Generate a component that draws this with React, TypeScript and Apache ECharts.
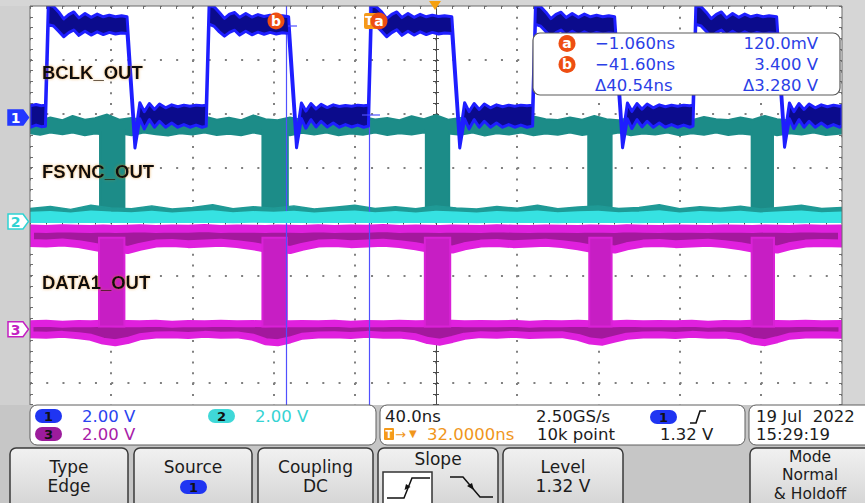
import React, { useEffect, useRef } from 'react';
import * as echarts from 'echarts';

// ---- scope settings ----
const timeMin = -168; // ns at left edge (40 ns/div, trigger position 32 ns)
const timeMax = 232; // ns at right edge
const voltsPerDiv = 2.0;
const ch1OffsetDiv = 1.93;
const ch2OffsetDiv = 0;
const ch3OffsetDiv = -2;
const cursorTimes = [-1.06, -41.6]; // cursor a, cursor b (ns)

// ---- CH1 BCLK_OUT envelope: [t ns, low V, high V] ----
const bclkEnvelope = [
  [-168, -0.36, 0.44], [-165, -0.28, 0.48], [-162.5, -0.34, 0.44], [-160.4, -0.32, 0.46],
  [-159.0, 3.45, 4.18], [-156.4, 3.4, 4.12], [-153.9, 3.2, 3.92], [-151.4, 3.0, 3.66],
  [-148.9, 3.15, 3.82], [-146.4, 3.25, 3.92], [-143.9, 3.05, 3.7], [-140.9, 3.2, 3.86],
  [-137.9, 3.06, 3.72], [-134.9, 3.18, 3.84], [-131.9, 3.08, 3.74], [-128.9, 3.16, 3.8],
  [-125.9, 3.1, 3.74], [-122.9, 3.14, 3.78], [-120.2, 3.12, 3.74],
  [-116.3, -1.13, -0.72], [-113.9, -0.05, 0.55], [-111.7, -0.42, 0.22], [-109.2, -0.08, 0.52],
  [-106.7, -0.36, 0.3], [-104.2, -0.14, 0.5], [-101.2, -0.36, 0.36], [-98.2, -0.2, 0.47],
  [-95.2, -0.36, 0.4], [-92.2, -0.26, 0.46], [-89.2, -0.36, 0.42], [-86.2, -0.28, 0.46],
  [-83.2, -0.36, 0.44], [-81.2, -0.32, 0.46],
  [-79.8, 3.47, 4.16], [-77.2, 3.38, 4.1], [-74.7, 3.18, 3.9], [-72.2, 3.02, 3.68],
  [-69.7, 3.16, 3.84], [-67.2, 3.24, 3.9], [-64.7, 3.06, 3.72], [-61.7, 3.2, 3.86],
  [-58.7, 3.07, 3.73], [-55.7, 3.17, 3.82], [-52.7, 3.09, 3.75], [-49.7, 3.16, 3.8],
  [-46.7, 3.1, 3.75], [-43.7, 3.15, 3.78], [-40.6, 3.12, 3.74],
  [-36.7, -1.12, -0.7], [-34.3, -0.04, 0.54], [-32.1, -0.4, 0.24], [-29.6, -0.08, 0.52],
  [-27.1, -0.35, 0.32], [-24.6, -0.14, 0.49], [-21.6, -0.35, 0.37], [-18.6, -0.2, 0.47],
  [-15.6, -0.36, 0.41], [-12.6, -0.26, 0.45], [-9.6, -0.35, 0.42], [-6.6, -0.28, 0.46],
  [-3.6, -0.36, 0.44], [-1.3, -0.32, 0.46],
  [0.1, 3.46, 4.18], [2.7, 3.4, 4.1], [5.2, 3.2, 3.92], [7.7, 3.0, 3.67],
  [10.2, 3.15, 3.83], [12.7, 3.26, 3.92], [15.2, 3.05, 3.71], [18.2, 3.2, 3.86],
  [21.2, 3.06, 3.72], [24.2, 3.18, 3.83], [27.2, 3.08, 3.74], [30.2, 3.16, 3.8],
  [33.2, 3.1, 3.75], [36.2, 3.14, 3.78], [39.8, 3.12, 3.74],
  [43.7, -1.13, -0.72], [46.1, -0.05, 0.55], [48.3, -0.42, 0.22], [50.8, -0.08, 0.52],
  [53.3, -0.36, 0.3], [55.8, -0.14, 0.5], [58.8, -0.36, 0.36], [61.8, -0.2, 0.47],
  [64.8, -0.36, 0.4], [67.8, -0.26, 0.46], [70.8, -0.36, 0.42], [73.8, -0.28, 0.46],
  [76.8, -0.36, 0.44], [79.6, -0.32, 0.46],
  [81.0, 3.46, 4.17], [83.6, 3.39, 4.11], [86.1, 3.19, 3.91], [88.6, 3.01, 3.67],
  [91.1, 3.15, 3.83], [93.6, 3.25, 3.91], [96.1, 3.05, 3.71], [99.1, 3.2, 3.86],
  [102.1, 3.06, 3.72], [105.1, 3.18, 3.84], [108.1, 3.08, 3.74], [111.1, 3.16, 3.8],
  [114.1, 3.1, 3.74], [117.1, 3.14, 3.78], [120.0, 3.12, 3.74],
  [123.9, -1.12, -0.71], [126.3, -0.05, 0.54], [128.5, -0.41, 0.23], [131.0, -0.08, 0.52],
  [133.5, -0.35, 0.31], [136.0, -0.14, 0.5], [139.0, -0.36, 0.36], [142.0, -0.2, 0.47],
  [145.0, -0.36, 0.4], [148.0, -0.26, 0.46], [151.0, -0.36, 0.42], [154.0, -0.28, 0.46],
  [157.0, -0.36, 0.44], [158.6, -0.32, 0.46],
  [160.0, 3.46, 4.17], [162.6, 3.4, 4.11], [165.1, 3.2, 3.91], [167.6, 3.0, 3.67],
  [170.1, 3.15, 3.83], [172.6, 3.25, 3.92], [175.1, 3.05, 3.7], [178.1, 3.2, 3.86],
  [181.1, 3.06, 3.72], [184.1, 3.18, 3.84], [187.1, 3.08, 3.74], [190.1, 3.16, 3.8],
  [193.1, 3.1, 3.74], [196.1, 3.14, 3.78], [199.8, 3.12, 3.74],
  [203.7, -1.1, -0.7], [206.1, -0.05, 0.54], [208.3, -0.41, 0.22], [210.8, -0.08, 0.52],
  [213.3, -0.36, 0.3], [215.8, -0.14, 0.5], [218.8, -0.36, 0.36], [221.8, -0.2, 0.47],
  [224.8, -0.36, 0.4], [227.8, -0.26, 0.46], [230.8, -0.36, 0.42], [232.0, -0.3, 0.45],
];

// ---- CH2 FSYNC_OUT (persistence): high band, low band, transitions ----
const fsyncHigh = [
  [-168, 3.28, 3.8], [-163, 3.22, 3.74], [-158, 3.3, 3.86], [-152, 3.24, 3.76], [-147, 3.3, 3.92],
  [-141, 3.2, 3.78], [-136, 3.27, 3.83], [-130, 3.22, 3.97], [-124, 3.28, 3.78], [-118, 3.2, 3.84],
  [-112, 3.3, 3.76], [-106, 3.24, 3.88], [-100, 3.19, 3.77], [-94, 3.28, 3.84], [-88, 3.23, 3.74],
  [-82, 3.3, 3.9], [-76, 3.21, 3.78], [-70, 3.26, 3.85], [-64, 3.2, 3.76], [-58, 3.3, 3.94],
  [-52, 3.22, 3.8], [-46, 3.27, 3.76], [-40, 3.2, 3.86], [-34, 3.29, 3.77], [-28, 3.23, 3.9],
  [-22, 3.3, 3.78], [-16, 3.2, 3.83], [-10, 3.27, 3.75], [-4, 3.22, 3.88], [2, 3.3, 3.79],
  [8, 3.21, 3.84], [14, 3.28, 3.76], [20, 3.23, 3.91], [26, 3.3, 3.8], [32, 3.2, 3.95],
  [38, 3.27, 3.78], [44, 3.22, 3.84], [50, 3.3, 3.76], [56, 3.19, 3.88], [62, 3.28, 3.78],
  [68, 3.23, 3.83], [74, 3.3, 3.75], [80, 3.2, 3.9], [86, 3.27, 3.8], [92, 3.22, 3.77],
  [98, 3.3, 3.86], [104, 3.21, 3.78], [110, 3.28, 3.92], [116, 3.22, 3.8], [122, 3.3, 3.76],
  [128, 3.2, 3.85], [134, 3.27, 3.78], [140, 3.23, 3.9], [146, 3.3, 3.79], [152, 3.2, 3.84],
  [158, 3.28, 3.76], [164, 3.22, 3.88], [170, 3.3, 3.8], [176, 3.21, 3.77], [182, 3.27, 3.86],
  [188, 3.22, 3.78], [194, 3.3, 3.92], [200, 3.2, 3.8], [206, 3.28, 3.76], [212, 3.23, 3.85],
  [218, 3.3, 3.78], [224, 3.21, 3.84], [232, 3.27, 3.8],
];
const fsyncLowFuzz = [
  [-168, 0.22, 0.48], [-158, 0.25, 0.56], [-148, 0.2, 0.45], [-138, 0.24, 0.6], [-128, 0.22, 0.5],
  [-118, 0.25, 0.47], [-108, 0.2, 0.58], [-98, 0.24, 0.46], [-88, 0.22, 0.52], [-78, 0.25, 0.62],
  [-68, 0.2, 0.47], [-58, 0.24, 0.55], [-48, 0.22, 0.49], [-38, 0.25, 0.58], [-28, 0.2, 0.46],
  [-18, 0.24, 0.53], [-8, 0.22, 0.6], [2, 0.25, 0.48], [12, 0.2, 0.55], [22, 0.24, 0.47],
  [32, 0.22, 0.58], [42, 0.25, 0.5], [52, 0.2, 0.46], [62, 0.24, 0.56], [72, 0.22, 0.49],
  [82, 0.25, 0.6], [92, 0.2, 0.47], [102, 0.24, 0.54], [112, 0.22, 0.58], [122, 0.25, 0.48],
  [132, 0.2, 0.52], [142, 0.24, 0.62], [152, 0.22, 0.47], [162, 0.25, 0.55], [172, 0.2, 0.49],
  [182, 0.24, 0.57], [192, 0.22, 0.46], [202, 0.25, 0.53], [212, 0.2, 0.6], [222, 0.24, 0.48],
  [232, 0.22, 0.52],
];
const fsyncLow = [
  [-168, -0.03, 0.33], [-158, -0.02, 0.36], [-148, -0.04, 0.31], [-138, -0.02, 0.38], [-128, -0.03, 0.34],
  [-118, -0.02, 0.32], [-108, -0.04, 0.37], [-98, -0.02, 0.31], [-88, -0.03, 0.35], [-78, -0.02, 0.39],
  [-68, -0.04, 0.32], [-58, -0.02, 0.36], [-48, -0.03, 0.33], [-38, -0.02, 0.37], [-28, -0.04, 0.31],
  [-18, -0.02, 0.35], [-8, -0.03, 0.38], [2, -0.02, 0.32], [12, -0.04, 0.36], [22, -0.02, 0.31],
  [32, -0.03, 0.37], [42, -0.02, 0.34], [52, -0.04, 0.31], [62, -0.02, 0.36], [72, -0.03, 0.33],
  [82, -0.02, 0.38], [92, -0.04, 0.32], [102, -0.02, 0.35], [112, -0.03, 0.37], [122, -0.02, 0.32],
  [132, -0.04, 0.34], [142, -0.02, 0.39], [152, -0.03, 0.31], [162, -0.02, 0.36], [172, -0.04, 0.33],
  [182, -0.02, 0.37], [192, -0.03, 0.31], [202, -0.02, 0.35], [212, -0.04, 0.38], [222, -0.02, 0.32],
  [232, -0.03, 0.34],
];
// [t start, t end, low V, high V]
const fsyncEdges = [
  [-133.5, -121.5, 0.3, 3.4], [-53.5, -41.0, 0.3, 3.4], [27.0, 38.5, 0.3, 3.4],
  [107.0, 118.5, 0.3, 3.4], [187.5, 198.0, 0.3, 3.4],
];

// ---- CH3 DATA1_OUT (persistence) ----
const data1High = [
  [-168, 3.2, 3.74], [-160, 3.18, 3.72], [-152, 3.22, 3.75], [-144, 3.16, 3.73], [-138, 3.08, 3.72],
  [-132, 3.0, 3.74], [-126, 3.02, 3.72], [-120, 2.94, 3.73], [-114, 3.06, 3.75], [-106, 3.18, 3.72],
  [-98, 3.2, 3.74], [-90, 3.16, 3.73], [-82, 3.18, 3.76], [-74, 3.21, 3.72], [-66, 3.16, 3.74],
  [-58, 3.08, 3.73], [-52, 3.0, 3.72], [-46, 3.02, 3.74], [-40, 2.94, 3.73], [-34, 3.06, 3.72],
  [-26, 3.18, 3.75], [-18, 3.2, 3.72], [-10, 3.16, 3.74], [-2, 3.18, 3.73], [6, 3.21, 3.76],
  [14, 3.16, 3.72], [22, 3.08, 3.74], [28, 3.0, 3.73], [34, 3.02, 3.72], [40, 2.96, 3.74],
  [46, 3.08, 3.73], [54, 3.18, 3.72], [62, 3.2, 3.75], [70, 3.16, 3.73], [78, 3.18, 3.72],
  [86, 3.21, 3.74], [94, 3.16, 3.73], [102, 3.08, 3.72], [108, 3.0, 3.74], [114, 3.02, 3.73],
  [120, 2.96, 3.72], [126, 3.08, 3.75], [134, 3.18, 3.73], [142, 3.2, 3.72], [150, 3.16, 3.74],
  [158, 3.18, 3.73], [166, 3.21, 3.72], [174, 3.16, 3.74], [182, 3.08, 3.73], [188, 3.0, 3.72],
  [194, 3.02, 3.74], [200, 2.96, 3.73], [206, 3.08, 3.72], [214, 3.18, 3.75], [222, 3.2, 3.73],
  [232, 3.18, 3.74],
];
const data1Low = [
  [-168, -0.2, 0.2], [-160, -0.22, 0.22], [-152, -0.19, 0.19], [-144, -0.24, 0.21], [-138, -0.3, 0.2],
  [-132, -0.44, 0.22], [-126, -0.5, 0.2], [-120, -0.42, 0.21], [-114, -0.28, 0.2], [-106, -0.21, 0.22],
  [-98, -0.2, 0.19], [-90, -0.23, 0.21], [-82, -0.19, 0.2], [-74, -0.22, 0.22], [-66, -0.21, 0.2],
  [-58, -0.3, 0.21], [-52, -0.46, 0.2], [-46, -0.5, 0.22], [-40, -0.4, 0.2], [-34, -0.26, 0.21],
  [-26, -0.21, 0.2], [-18, -0.2, 0.22], [-10, -0.23, 0.19], [-2, -0.19, 0.21], [6, -0.22, 0.2],
  [14, -0.21, 0.22], [22, -0.28, 0.2], [28, -0.42, 0.21], [34, -0.48, 0.2], [40, -0.38, 0.22],
  [46, -0.26, 0.2], [54, -0.2, 0.21], [62, -0.22, 0.2], [70, -0.19, 0.22], [78, -0.23, 0.19],
  [86, -0.21, 0.21], [94, -0.2, 0.2], [102, -0.3, 0.22], [108, -0.44, 0.2], [114, -0.48, 0.21],
  [120, -0.37, 0.2], [126, -0.26, 0.22], [134, -0.21, 0.2], [142, -0.2, 0.21], [150, -0.23, 0.2],
  [158, -0.19, 0.22], [166, -0.22, 0.19], [174, -0.21, 0.21], [182, -0.28, 0.2], [188, -0.44, 0.22],
  [194, -0.5, 0.2], [200, -0.39, 0.21], [206, -0.26, 0.2], [214, -0.21, 0.22], [222, -0.2, 0.2],
  [232, -0.22, 0.21],
];
const data1Edges = [
  [-134.0, -121.5, 0.1, 3.4], [-53.5, -41.5, 0.1, 3.4], [26.5, 39.0, 0.1, 3.4],
  [107.5, 118.5, 0.1, 3.4], [187.5, 198.5, 0.1, 3.4],
];

// ---- on-screen texts ----
const traceLabels = ['BCLK_OUT', 'FSYNC_OUT', 'DATA1_OUT'];
const cursorReadout = [
  ['a', '\u22121.060ns', '120.0mV'],
  ['b', '\u221241.60ns', '3.400 V'],
  ['', '\u039440.54ns', '\u03943.280 V'],
];
const channelScales = ['2.00 V', '2.00 V', '2.00 V'];
const horizontalInfo = ['40.0ns', '32.0000ns', '2.50GS/s', '10k point'];
const triggerLevel = '1.32 V';
const dateTime = ['19 Jul  2022', '15:29:19'];
const menuButtons = [
  ['Type', 'Edge'],
  ['Source', ''],
  ['Coupling', 'DC'],
  ['Slope', ''],
  ['Level', '1.32 V'],
  ['Mode', 'Normal', '& Holdoff'],
];

const FONT = '"DejaVu Sans", Verdana, sans-serif';
const LBL_FONT = '"Liberation Sans", Arial, sans-serif';

function chAxis(offsetDiv: number) {
  return {
    type: 'value', show: false, gridIndex: 0,
    min: (-4 - offsetDiv) * voltsPerDiv, max: (4 - offsetDiv) * voltsPerDiv,
  };
}

function bandSeries(rows: number[][], yAxisIndex: number, fill: string, stroke: string, lineWidth: number, z: number) {
  return {
    type: 'custom', xAxisIndex: 1, yAxisIndex, z, silent: true, clip: true,
    encode: { x: 0, y: [1, 2] },
    data: rows,
    renderItem: (params: any, api: any) => {
      if (params.dataIndex !== 0) return null;
      const upper = rows.map((r) => api.coord([r[0], r[2]]));
      const lower = rows.map((r) => api.coord([r[0], r[1]])).reverse();
      return {
        type: 'polygon',
        shape: { points: upper.concat(lower) },
        style: { fill, stroke, lineWidth, lineJoin: 'round' },
      };
    },
  };
}

function blockSeries(rows: number[][], yAxisIndex: number, fill: string, stroke: string, z: number) {
  return {
    type: 'custom', xAxisIndex: 1, yAxisIndex, z, silent: true, clip: true,
    encode: { x: [0, 1], y: [2, 3] },
    data: rows,
    renderItem: (params: any, api: any) => {
      const a = api.coord([api.value(0), api.value(3)]);
      const b = api.coord([api.value(1), api.value(2)]);
      return {
        type: 'rect',
        shape: { x: a[0], y: a[1], width: b[0] - a[0], height: b[1] - a[1] },
        style: { fill, stroke, lineWidth: 2 },
      };
    },
  };
}

function txt(x: number, y: number, text: string, o: any = {}) {
  return {
    type: 'text', x, y, z: o.z || 60, silent: true,
    style: {
      text, fill: o.fill || '#1c1c1c',
      font: `${o.weight || 'normal'} ${o.size || 16.5}px ${o.family || FONT}`,
      textAlign: o.align || 'left', textVerticalAlign: 'middle', verticalAlign: 'middle',
      textShadowColor: o.shadow || 'transparent', textShadowBlur: o.shadow ? 3 : 0,
    },
  };
}

function pill(x: number, y: number, label: string, fill: string) {
  return [
    { type: 'rect', z: 61, shape: { x, y, width: 27, height: 14, r: 7 }, style: { fill } },
    txt(x + 13.5, y + 7.5, label, { align: 'center', size: 13, weight: 'bold', fill: '#111', z: 62 }),
  ];
}

function marker(y: number, label: string, color: string, filled: boolean) {
  return [
    {
      type: 'polygon', z: 61,
      shape: { points: [[8, y - 7.5], [23, y - 7.5], [28.5, y], [23, y + 7.5], [8, y + 7.5]] },
      style: { fill: filled ? color : '#ffffff', stroke: color, lineWidth: 1.5 },
    },
    txt(15.5, y + 0.5, label, { align: 'center', size: 14, weight: 'bold', fill: filled ? '#ffffff' : color, z: 62 }),
  ];
}

const gratAxisCommon = {
  axisLabel: { show: false },
};

function buildOption() {
  const tickStyle = { color: '#6e6e6e', width: 1 };
  const centerStyle = { color: '#4a4a4a', width: 1 };
  const dotColor = '#808080';
  const xAxes: any[] = [
    {
      ...gratAxisCommon, type: 'value', gridIndex: 0, min: 0, max: 10, interval: 1,
      axisLine: { show: false, onZero: false }, axisTick: { show: false },
      splitLine: { show: true, lineStyle: { color: dotColor, width: 2, type: [2, 8.775] } },
    },
    { type: 'value', gridIndex: 0, show: false, min: timeMin, max: timeMax },
    {
      ...gratAxisCommon, type: 'value', gridIndex: 0, position: 'top', min: 0, max: 10, interval: 1,
      axisLine: { show: false, onZero: false }, splitLine: { show: false },
      axisTick: { show: true, inside: true, length: 3, lineStyle: tickStyle },
      minorTick: { show: true, splitNumber: 5, length: 3, lineStyle: tickStyle },
    },
    {
      ...gratAxisCommon, type: 'value', gridIndex: 0, position: 'bottom', offset: -215.5, min: 0, max: 10, interval: 1,
      axisLine: { show: true, onZero: false, lineStyle: centerStyle }, splitLine: { show: false },
      axisTick: { show: true, inside: true, length: 3, lineStyle: centerStyle },
      minorTick: { show: true, splitNumber: 5, length: 3, lineStyle: centerStyle },
    },
    {
      ...gratAxisCommon, type: 'value', gridIndex: 0, position: 'bottom', offset: -215.5, min: 0, max: 10, interval: 1,
      axisLine: { show: false, onZero: false }, splitLine: { show: false },
      axisTick: { show: true, inside: false, length: 3, lineStyle: centerStyle },
      minorTick: { show: true, splitNumber: 5, length: 3, lineStyle: centerStyle },
    },
  ];
  const yAxes: any[] = [
    {
      ...gratAxisCommon, type: 'value', gridIndex: 0, min: 0, max: 8, interval: 1, position: 'left',
      axisLine: { show: false, onZero: false },
      axisTick: { show: true, inside: true, length: 3, lineStyle: tickStyle },
      minorTick: { show: true, splitNumber: 5, length: 3, lineStyle: tickStyle },
      splitLine: { show: true, lineStyle: { color: dotColor, width: 2, type: [2, 14.24] } },
    },
    chAxis(ch1OffsetDiv),
    chAxis(ch2OffsetDiv),
    chAxis(ch3OffsetDiv),
    {
      ...gratAxisCommon, type: 'value', gridIndex: 0, min: 0, max: 8, interval: 1, position: 'right',
      axisLine: { show: false, onZero: false }, splitLine: { show: false },
      axisTick: { show: true, inside: true, length: 3, lineStyle: tickStyle },
      minorTick: { show: true, splitNumber: 5, length: 3, lineStyle: tickStyle },
    },
    {
      ...gratAxisCommon, type: 'value', gridIndex: 0, min: 0, max: 8, interval: 1, position: 'left', offset: -406,
      axisLine: { show: true, onZero: false, lineStyle: centerStyle }, splitLine: { show: false },
      axisTick: { show: true, inside: true, length: 3, lineStyle: centerStyle },
      minorTick: { show: true, splitNumber: 5, length: 3, lineStyle: centerStyle },
    },
    {
      ...gratAxisCommon, type: 'value', gridIndex: 0, min: 0, max: 8, interval: 1, position: 'left', offset: -406,
      axisLine: { show: false, onZero: false }, splitLine: { show: false },
      axisTick: { show: true, inside: false, length: 3, lineStyle: centerStyle },
      minorTick: { show: true, splitNumber: 5, length: 3, lineStyle: centerStyle },
    },
  ];

  const series: any[] = [
    // DATA1 (ch3)
    bandSeries(data1High, 3, '#a3189d', '#e020de', 8, 2),
    bandSeries(data1Low, 3, '#a3189d', '#e020de', 7, 2),
    blockSeries(data1Edges, 3, '#c71ec4', '#d921d6', 3),
    // FSYNC (ch2)
    bandSeries(fsyncHigh, 2, '#1c8c88', '#1c8c88', 2, 4),
    blockSeries(fsyncEdges, 2, '#1c8c88', '#1c8c88', 4),
    bandSeries(fsyncLowFuzz, 2, '#1f9a96', '#1f9a96', 1.5, 4),
    bandSeries(fsyncLow, 2, '#36e2e2', '#36e2e2', 1.5, 5),
    // BCLK (ch1)
    bandSeries(bclkEnvelope, 1, '#0b0b8c', '#1e1eff', 3, 6),
    // cursors
    {
      type: 'line', xAxisIndex: 1, yAxisIndex: 1, data: [], z: 7, silent: true,
      markLine: {
        silent: true, symbol: ['none', 'none'], label: { show: false },
        lineStyle: { color: '#5050ff', width: 1.2, type: 'solid' },
        data: cursorTimes.map((t) => ({ xAxis: t })),
      },
    },
  ];

  const g: any[] = [];
  // gray frame panels around the graticule
  g.push({ type: 'rect', z: 30, silent: true, shape: { x: 0, y: 0, width: 30, height: 405 }, style: { fill: '#d0d0d0' } });
  g.push({ type: 'rect', z: 30, silent: true, shape: { x: 0, y: 0, width: 865, height: 6 }, style: { fill: '#d6d6d6' } });
  g.push({ type: 'rect', z: 30, silent: true, shape: { x: 842, y: 0, width: 23, height: 405 }, style: { fill: '#d6d6d6' } });
  g.push({ type: 'rect', z: 31, silent: true, shape: { x: 30, y: 6, width: 812, height: 431 }, style: { fill: null, stroke: '#6a6a6a', lineWidth: 1 } });
  // trace labels
  const lblY = [72, 171, 282];
  traceLabels.forEach((l, i) => g.push(txt(42, lblY[i], l, { size: 18.5, weight: 'bold', family: LBL_FONT, fill: '#0a0a0a', shadow: 'rgba(220,130,20,0.55)', z: 40 })));
  // channel markers
  g.push(...marker(117.5, '1', '#2338ff', true));
  g.push(...marker(221.5, '2', '#2fd3d3', false));
  g.push(...marker(329.3, '3', '#c41fc2', false));
  // trigger / expansion marker on top
  g.push({ type: 'polygon', z: 45, shape: { points: [[429, 1], [441, 1], [435, 10]] }, style: { fill: '#f5a00f' } });
  // cursor badges on top
  g.push({ type: 'circle', z: 45, shape: { cx: 276, cy: 21, r: 8.5 }, style: { fill: '#ee4e12' } });
  g.push(txt(276, 20.5, 'b', { align: 'center', size: 14, weight: 'bold', fill: '#fff', z: 46 }));
  g.push({ type: 'rect', z: 44, shape: { x: 364, y: 13, width: 14, height: 16, r: 2 }, style: { fill: '#f59a1a' } });
  g.push(txt(369, 21, 'T', { align: 'center', size: 12, weight: 'bold', fill: '#fff', z: 44 }));
  g.push({ type: 'circle', z: 45, shape: { cx: 379, cy: 21, r: 8.5 }, style: { fill: '#ee4e12' } });
  g.push(txt(379, 20.5, 'a', { align: 'center', size: 14, weight: 'bold', fill: '#fff', z: 46 }));
  // cursor crosshair ticks
  g.push({ type: 'line', z: 45, shape: { x1: 288, y1: 26, x2: 297, y2: 26 }, style: { stroke: '#5050ff', lineWidth: 1.2 } });
  g.push({ type: 'line', z: 45, shape: { x1: 362, y1: 115, x2: 380, y2: 115 }, style: { stroke: '#5050ff', lineWidth: 1.2 } });

  // cursor readout box
  g.push({ type: 'rect', z: 50, shape: { x: 533, y: 33, width: 307, height: 62, r: 7 }, style: { fill: '#ffffff', stroke: '#5a5a5a', lineWidth: 1.2 } });
  const rowY = [43.5, 64.5, 85];
  cursorReadout.forEach((r, i) => {
    if (r[0]) {
      g.push({ type: 'circle', z: 51, shape: { cx: 567, cy: rowY[i], r: 8.5 }, style: { fill: '#ee4e12' } });
      g.push(txt(567, rowY[i] - 0.5, r[0], { align: 'center', size: 14, weight: 'bold', fill: '#fff', z: 52 }));
    }
    g.push(txt(595, rowY[i], r[1], { fill: '#2b3fe6', size: 16.5, z: 52 }));
    g.push(txt(818, rowY[i], r[2], { fill: '#2b3fe6', size: 16.5, align: 'right', z: 52 }));
  });

  // bottom status / menu area
  g.push({ type: 'rect', z: 55, shape: { x: 0, y: 405, width: 865, height: 98 }, style: { fill: '#c6c6c6' } });
  g.push({ type: 'rect', z: 56, shape: { x: 30, y: 405, width: 346, height: 40, r: 7 }, style: { fill: '#ffffff', stroke: '#5e5e5e', lineWidth: 1 } });
  g.push({ type: 'rect', z: 56, shape: { x: 380, y: 405, width: 365, height: 40, r: 7 }, style: { fill: '#ffffff', stroke: '#5e5e5e', lineWidth: 1 } });
  g.push({ type: 'rect', z: 56, shape: { x: 749, y: 405, width: 130, height: 40, r: 7 }, style: { fill: '#ffffff', stroke: '#5e5e5e', lineWidth: 1 } });
  g.push(...pill(35, 409, '1', '#1f35f2'));
  g.push(txt(82, 416, channelScales[0], { fill: '#2a44f0' }));
  g.push(...pill(208, 409, '2', '#3fd8d8'));
  g.push(txt(255, 416, channelScales[1], { fill: '#35d3d3' }));
  g.push(...pill(35, 427, '3', '#9c1c9c'));
  g.push(txt(82, 434, channelScales[2], { fill: '#a81ca8' }));
  g.push(txt(385, 416, horizontalInfo[0]));
  g.push({ type: 'rect', z: 61, shape: { x: 384, y: 428, width: 10, height: 12, r: 1 }, style: { fill: '#f59a1a' } });
  g.push(txt(389, 434.5, 'T', { align: 'center', size: 10, weight: 'bold', fill: '#fff', z: 62 }));
  g.push(txt(395, 434, '\u2192', { fill: '#f0961c', size: 13 }));
  g.push(txt(409, 433, '\u25BC', { fill: '#f0961c', size: 10 }));
  g.push(txt(427, 434, horizontalInfo[1], { fill: '#f0961c' }));
  g.push(txt(536, 416, horizontalInfo[2]));
  g.push(txt(537, 434, horizontalInfo[3]));
  g.push(...pill(650, 410, '1', '#1f35f2'));
  g.push({ type: 'polyline', z: 61, shape: { points: [[690, 423], [696, 423], [700, 411], [706, 411]] }, style: { stroke: '#111', lineWidth: 1.6, fill: null } });
  g.push(txt(660, 434, triggerLevel));
  g.push(txt(756, 416, dateTime[0]));
  g.push(txt(756, 434, dateTime[1]));

  const btnX = [[10, 118], [134, 118], [258, 115], [378, 120], [503, 120], [750, 125]];
  btnX.forEach(([x, w]) => {
    g.push({
      type: 'rect', z: 56, shape: { x, y: 448, width: w, height: 62, r: [6, 6, 0, 0] },
      style: {
        fill: { type: 'linear', x: 0, y: 0, x2: 0, y2: 1, colorStops: [{ offset: 0, color: '#f1f1f1' }, { offset: 1, color: '#d3d3d3' }] },
        stroke: '#3a3a3a', lineWidth: 1.5,
      },
    });
  });
  const bc = (i: number) => btnX[i][0] + btnX[i][1] / 2;
  g.push(txt(bc(0), 467, menuButtons[0][0], { align: 'center', size: 17 }));
  g.push(txt(bc(0), 486, menuButtons[0][1], { align: 'center', size: 17 }));
  g.push(txt(bc(1), 467, menuButtons[1][0], { align: 'center', size: 17 }));
  g.push(...pill(180, 480, '1', '#1f35f2'));
  g.push(txt(bc(2), 467, menuButtons[2][0], { align: 'center', size: 17 }));
  g.push(txt(bc(2), 486, menuButtons[2][1], { align: 'center', size: 17 }));
  g.push(txt(bc(3), 459, menuButtons[3][0], { align: 'center', size: 17 }));
  g.push({ type: 'rect', z: 61, shape: { x: 383, y: 472, width: 49, height: 36 }, style: { fill: '#ffffff', stroke: '#333', lineWidth: 1.5 } });
  g.push({ type: 'polyline', z: 62, shape: { points: [[387, 498], [404, 498], [412, 478], [430, 478]] }, style: { stroke: '#111', lineWidth: 1.5, fill: null } });
  g.push({ type: 'polygon', z: 62, shape: { points: [[404.5, 490], [410.5, 487], [406, 484]] }, style: { fill: '#111' } });
  g.push({ type: 'polyline', z: 62, shape: { points: [[450, 477], [463, 477], [480, 497], [493, 497]] }, style: { stroke: '#111', lineWidth: 1.5, fill: null } });
  g.push({ type: 'polygon', z: 62, shape: { points: [[467, 486], [474, 490], [472, 483]] }, style: { fill: '#111' } });
  g.push(txt(bc(4), 467, menuButtons[4][0], { align: 'center', size: 17 }));
  g.push(txt(bc(4), 486, menuButtons[4][1], { align: 'center', size: 17 }));
  g.push(txt(810, 456.5, menuButtons[5][0], { align: 'center', size: 15.5 }));
  g.push(txt(810, 475, menuButtons[5][1], { align: 'center', size: 15.5 }));
  g.push(txt(810, 493.5, menuButtons[5][2], { align: 'center', size: 15.5 }));

  return {
    animation: false,
    backgroundColor: '#ffffff',
    grid: { left: 30, top: 6, width: 812, height: 431, show: false },
    xAxis: xAxes,
    yAxis: yAxes,
    series,
    graphic: { elements: g },
  };
}

export default function App() {
  const ref = useRef<HTMLDivElement>(null);
  useEffect(() => {
    if (!ref.current) return;
    const chart = echarts.init(ref.current, undefined, { renderer: 'svg' });
    chart.setOption(buildOption() as any);
    return () => chart.dispose();
  }, []);
  return <div ref={ref} style={{ position: 'absolute', left: 0, top: 0, width: 865, height: 503 }} />;
}
